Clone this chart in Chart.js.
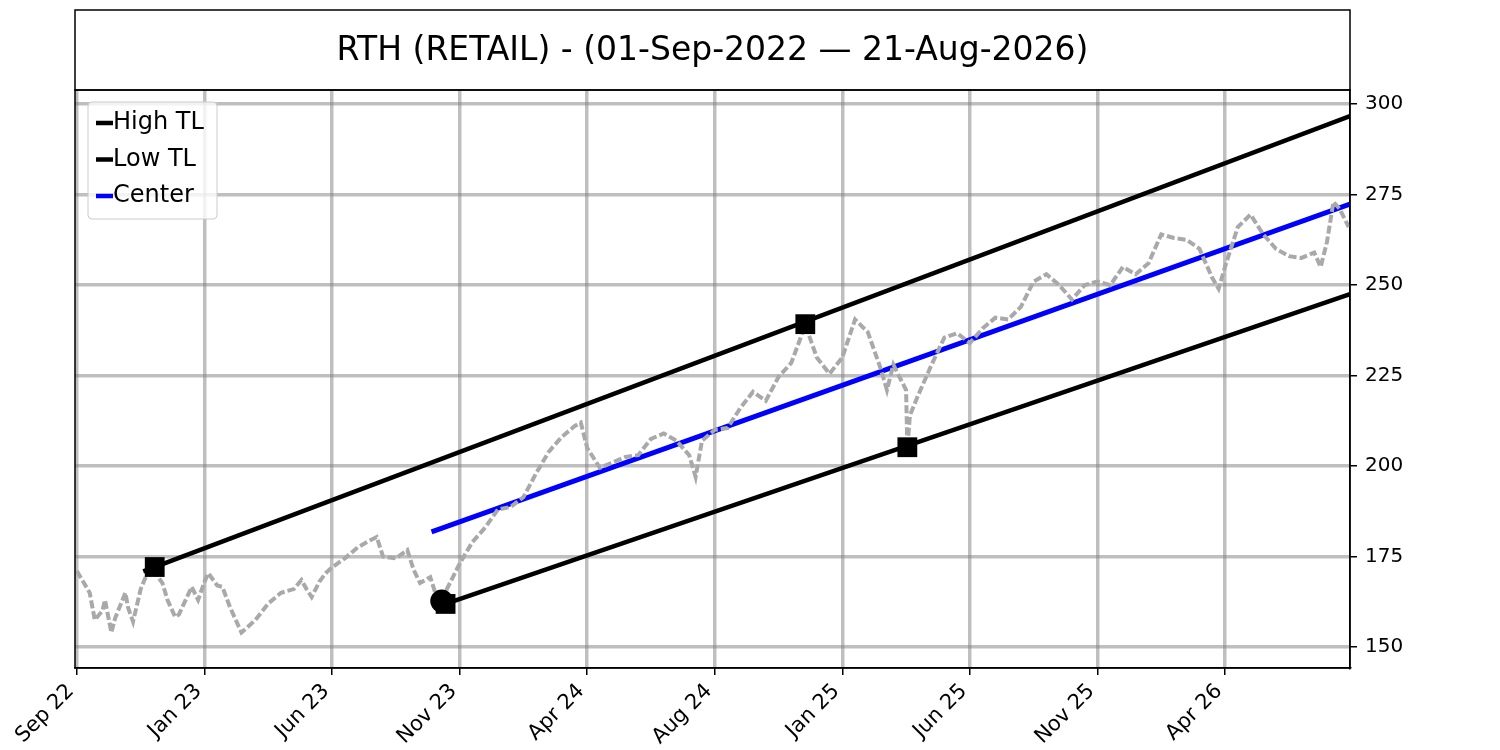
<!DOCTYPE html>
<html>
<head>
<meta charset="utf-8">
<script src="https://cdn.jsdelivr.net/npm/chart.js@4.4.0/dist/chart.umd.min.js"></script>
<style>
  html, body { margin: 0; padding: 0; background: #fff; }
  canvas { display: block; }
</style>
</head>
<body>
<canvas id="rthChart" width="1500" height="750"></canvas>
<script>
var titleText = "RTH (RETAIL) - (01-Sep-2022 \u2014 21-Aug-2026)";

// x is the trading-day index, ticks every 100 bars
var tickPos = [0, 100, 200, 300, 400, 500, 600, 700, 800, 900];
var tickLabels = ["Sep 22", "Jan 23", "Jun 23", "Nov 23", "Apr 24", "Aug 24", "Jan 25", "Jun 25", "Nov 25", "Apr 26"];
var yTicks = [150, 175, 200, 225, 250, 275, 300];

// close price
var priceIdx = [
  0, 10, 14, 20, 22, 27, 30, 38, 40, 44, 50, 57, 60, 67, 71, 77, 80, 90, 95, 100,
  103, 110, 114, 120, 129, 140, 150, 160, 170, 176, 180, 184, 190, 195, 200,
  210, 220, 230, 235, 240, 250, 259, 264, 269, 277, 282, 286, 290, 300,
  310, 320, 330, 340, 350, 360, 370, 380, 390, 395, 400,
  410, 420, 430, 440, 450, 460, 470, 480, 485, 490, 500,
  510, 520, 530, 540, 550, 560, 569, 571, 580, 590, 600,
  610, 620, 630, 635, 640, 650, 651, 653, 660, 670, 680, 690, 700,
  710, 720, 730, 740, 750, 760, 770, 780, 790, 800,
  810, 820, 830, 840, 850, 860, 870, 880, 890, 895, 900,
  910, 920, 930, 940, 950, 960, 970, 975, 980, 985, 990, 997
];
var priceVal = [
  171, 165, 157.5, 160, 163, 154, 158, 165, 161, 157, 166, 172, 171, 167.7, 163, 158.3, 159, 166.6, 163, 168,
  170.4, 167, 166.6, 161, 154, 157.5, 162, 165, 166, 168.5, 166, 163.8, 168, 170.4, 172,
  174.5, 177.5, 179.5, 180.4, 175, 174.5, 176.8, 171.3, 167.7, 169.3, 163.8, 162.5, 166, 173,
  179, 183, 188, 188.7, 191.4, 198, 204, 208, 211, 212, 205,
  199.5, 201, 202.5, 203, 207.5, 209, 207, 203, 197, 207, 210,
  210.5, 216, 220.5, 218, 224.6, 228.5, 237, 239, 230, 225.5, 230,
  240.5, 237, 227, 221, 228, 221, 205, 214, 220, 228, 235.5, 236.7, 234,
  238, 241, 240.5, 244, 251, 253, 250, 246, 250, 251,
  250, 255, 253, 256, 264, 263, 262.5, 260, 252, 249, 255,
  266, 269.5, 264, 260, 258, 257.5, 259, 255, 262, 273, 271, 266
];

// trend lines: start and end
var highTLIdx = [52, 998];
var highTLVal = [170.9, 296.7];
var lowTLIdx = [289, 998];
var lowTLVal = [161.9, 247.5];
var centerIdx = [278, 998];
var centerVal = [181.8, 272.4];

// pivots
var pivotSqIdx = [61, 571, 289, 651];
var pivotSqVal = [172.1, 239.2, 161.9, 205.2];
var pivotDotIdx = [286];
var pivotDotVal = [162.7];

function pts(xs, ys) {
  return xs.map(function (x, i) { return { x: x, y: ys[i] }; });
}

var gridColor = "rgba(128,128,128,0.5)";

// title box, spines and the legend inside the plot
var frame = {
  id: "frame",
  afterDraw: function (chart) {
    var ctx = chart.ctx, a = chart.chartArea;
    ctx.save();
    ctx.strokeStyle = "#000";
    ctx.lineWidth = 1.5;
    ctx.strokeRect(a.left, 10, a.right - a.left, a.top - 10);
    ctx.strokeRect(a.left, a.top, a.right - a.left, a.bottom - a.top);

    ctx.fillStyle = "#000";
    ctx.font = '33px "DejaVu Sans"';
    ctx.textAlign = "center";
    ctx.textBaseline = "middle";
    ctx.fillText(titleText, (a.left + a.right) / 2, 51);

    // legend
    var items = chart.data.datasets.filter(function (d) { return d.inLegend; });
    var bx = a.left + 13, by = a.top + 12, bw = 129, bh = 117;
    ctx.beginPath();
    ctx.roundRect(bx, by, bw, bh, 4);
    ctx.fillStyle = "rgba(255,255,255,0.8)";
    ctx.fill();
    ctx.strokeStyle = "#cccccc";
    ctx.lineWidth = 1;
    ctx.stroke();
    ctx.font = '24px "DejaVu Sans"';
    ctx.textAlign = "left";
    items.forEach(function (d, i) {
      var yy = by + 21 + i * 36.5;
      ctx.strokeStyle = d.borderColor;
      ctx.lineWidth = 4.5;
      ctx.beginPath();
      ctx.moveTo(bx + 8, yy);
      ctx.lineTo(bx + 25, yy);
      ctx.stroke();
      ctx.fillStyle = "#000";
      ctx.fillText(d.label, bx + 25, yy);
    });
    ctx.restore();
  }
};

new Chart(document.getElementById("rthChart"), {
  type: "line",
  data: {
    datasets: [
      {
        label: "pivots",
        type: "scatter",
        data: pts(pivotSqIdx, pivotSqVal),
        pointStyle: "rect",
        pointRadius: 14,
        backgroundColor: "#000",
        borderColor: "#000",
        borderWidth: 0,
        order: 0
      },
      {
        label: "pivot low",
        type: "scatter",
        data: pts(pivotDotIdx, pivotDotVal),
        pointStyle: "circle",
        pointRadius: 11.5,
        backgroundColor: "#000",
        borderColor: "#000",
        borderWidth: 0,
        order: 0
      },
      {
        label: "Price",
        data: pts(priceIdx, priceVal),
        borderColor: "#a9a9a9",
        borderWidth: 4,
        borderDash: [8, 3],
        pointRadius: 0,
        tension: 0,
        order: 1
      },
      {
        label: "High TL",
        inLegend: true,
        data: pts(highTLIdx, highTLVal),
        borderColor: "#000000",
        borderWidth: 4.5,
        pointRadius: 0,
        order: 2
      },
      {
        label: "Low TL",
        inLegend: true,
        data: pts(lowTLIdx, lowTLVal),
        borderColor: "#000000",
        borderWidth: 4.5,
        pointRadius: 0,
        order: 2
      },
      {
        label: "Center",
        inLegend: true,
        data: pts(centerIdx, centerVal),
        borderColor: "#0000ff",
        borderWidth: 5,
        pointRadius: 0,
        order: 2
      }
    ]
  },
  options: {
    responsive: false,
    animation: false,
    devicePixelRatio: 1,
    layout: { padding: { top: 90, left: 75, right: 0, bottom: 0 } },
    plugins: {
      legend: { display: false },
      title: { display: false },
      tooltip: { enabled: false }
    },
    scales: {
      x: {
        type: "linear",
        min: -1.5,
        max: 998,
        afterBuildTicks: function (s) { s.ticks = tickPos.map(function (v) { return { value: v }; }); },
        afterFit: function (s) { s.height = 82; },
        grid: { color: gridColor, lineWidth: 3.5, tickColor: "#000", tickLength: 7, tickWidth: 1.5 },
        border: { display: true, color: "#000", width: 1.5 },
        ticks: {
          autoSkip: false,
          minRotation: 45,
          maxRotation: 45,
          padding: 4,
          labelOffset: -6,
          color: "#000",
          font: { family: "DejaVu Sans", size: 21 },
          callback: function (v) {
            var k = tickPos.indexOf(v);
            return k >= 0 ? tickLabels[k] : "";
          }
        }
      },
      y: {
        type: "linear",
        position: "right",
        min: 144.2,
        max: 303.9,
        afterBuildTicks: function (s) { s.ticks = yTicks.map(function (v) { return { value: v }; }); },
        afterFit: function (s) { s.width = 150; },
        grid: { color: gridColor, lineWidth: 3.5, tickColor: "#000", tickLength: 7, tickWidth: 1.5 },
        border: { display: true, color: "#000", width: 1.5 },
        ticks: {
          padding: 8,
          color: "#000",
          font: { family: "DejaVu Sans", size: 20 }
        }
      }
    }
  },
  plugins: [frame]
});
</script>
</body>
</html>
